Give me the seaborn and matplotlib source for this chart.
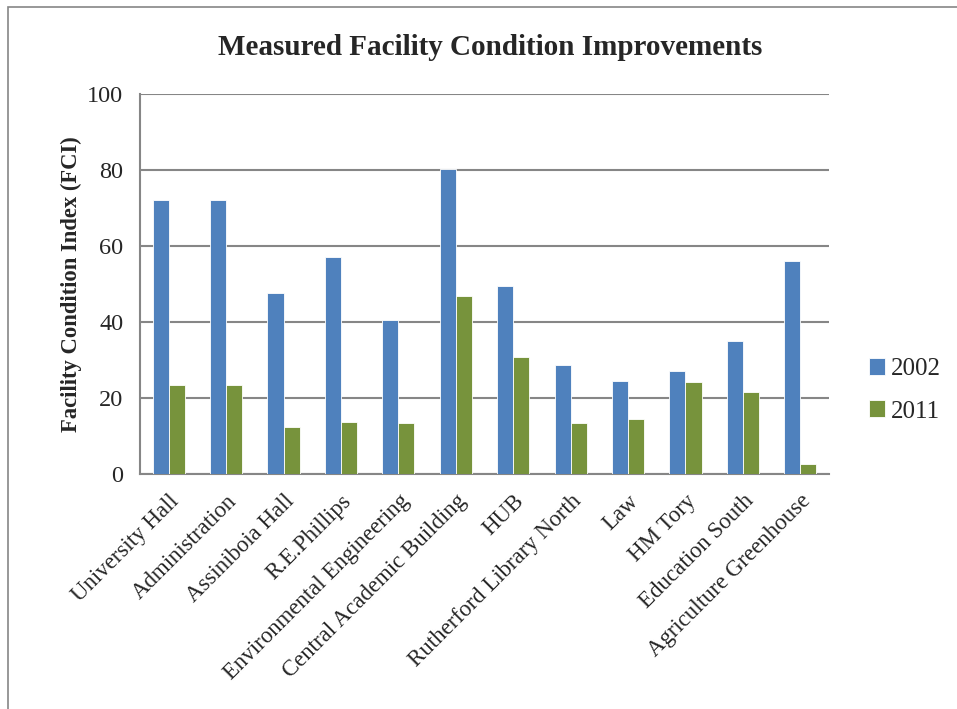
import pandas as pd
import matplotlib.pyplot as plt
import seaborn as sns
from matplotlib.patches import Rectangle

# Data
buildings = ["University Hall", "Administration", "Assiniboia Hall", "R.E.Phillips",
             "Environmental Engineering", "Central Academic Building", "HUB",
             "Rutherford Library North", "Law", "HM Tory", "Education South",
             "Agriculture Greenhouse"]
fci_2002 = [72.0, 72.0, 47.7, 57.1, 40.6, 80.2, 49.6, 28.8, 24.6, 27.1, 35.1, 56.1]
fci_2011 = [23.5, 23.5, 12.3, 13.6, 13.5, 46.9, 30.7, 13.5, 14.6, 24.1, 21.5, 2.6]
years = ["2002", "2011"]

df = pd.DataFrame({
    "Building": buildings * 2,
    "Year": [years[0]] * len(buildings) + [years[1]] * len(buildings),
    "FCI": fci_2002 + fci_2011,
})

sns.set_style("white")
plt.rcParams['font.family'] = ['Liberation Serif', 'DejaVu Serif']

fig = plt.figure(figsize=(9.57, 7.09), dpi=100)
ax = fig.add_axes([140 / 957, 1 - 474 / 709, 689 / 957, 380 / 709])

sns.barplot(data=df, x="Building", y="FCI", hue="Year", order=buildings,
            palette=["#4F81BD", "#77933C"], saturation=1, width=0.56, gap=0, ax=ax,
            edgecolor="white", linewidth=0.6, zorder=3)

ax.set_ylim(0, 100)
ax.set_xlim(-0.5, len(buildings) - 0.5)
ax.set_yticks(range(0, 101, 20))
ax.yaxis.grid(True, color="#868686", linewidth=1.5, zorder=0)
ax.set_axisbelow(True)

for side in ["top", "right"]:
    ax.spines[side].set_visible(False)
for side in ["left", "bottom"]:
    ax.spines[side].set_color("#868686")
    ax.spines[side].set_linewidth(1.5)

# category boundary ticks on x, labels centred
ax.set_xticks([i - 0.5 for i in range(len(buildings) + 1)], minor=True)
ax.tick_params(axis="x", which="minor", length=6, color="#868686", width=1.5)
ax.tick_params(axis="x", which="major", length=0, pad=12)
ax.tick_params(axis="y", length=7, color="#868686", width=1.5, labelsize=17.5, pad=5)
ax.set_xticks(range(len(buildings)))
ax.set_xticklabels(buildings, rotation=45, ha="right", rotation_mode="anchor", fontsize=16.5)

ax.set_xlabel("")
ax.set_ylabel("Facility Condition Index (FCI)", fontsize=16.3, fontweight="bold", labelpad=4)
fig.suptitle("Measured Facility Condition Improvements", fontsize=21, fontweight="bold",
             x=490 / 957, y=1 - 34 / 709, va="top")

ax.legend(loc="center left", bbox_to_anchor=(1.025, 0.22), frameon=False,
          fontsize=18, handlelength=0.65, handleheight=0.65, labelspacing=0.8,
          handletextpad=0.25)

fig.add_artist(Rectangle((8 / 957, -0.01), 1.0, 1 - 7 / 709 + 0.01,
                         transform=fig.transFigure, fill=False,
                         edgecolor="#868686", linewidth=1.2))

fig.savefig("out.png", dpi=100)
